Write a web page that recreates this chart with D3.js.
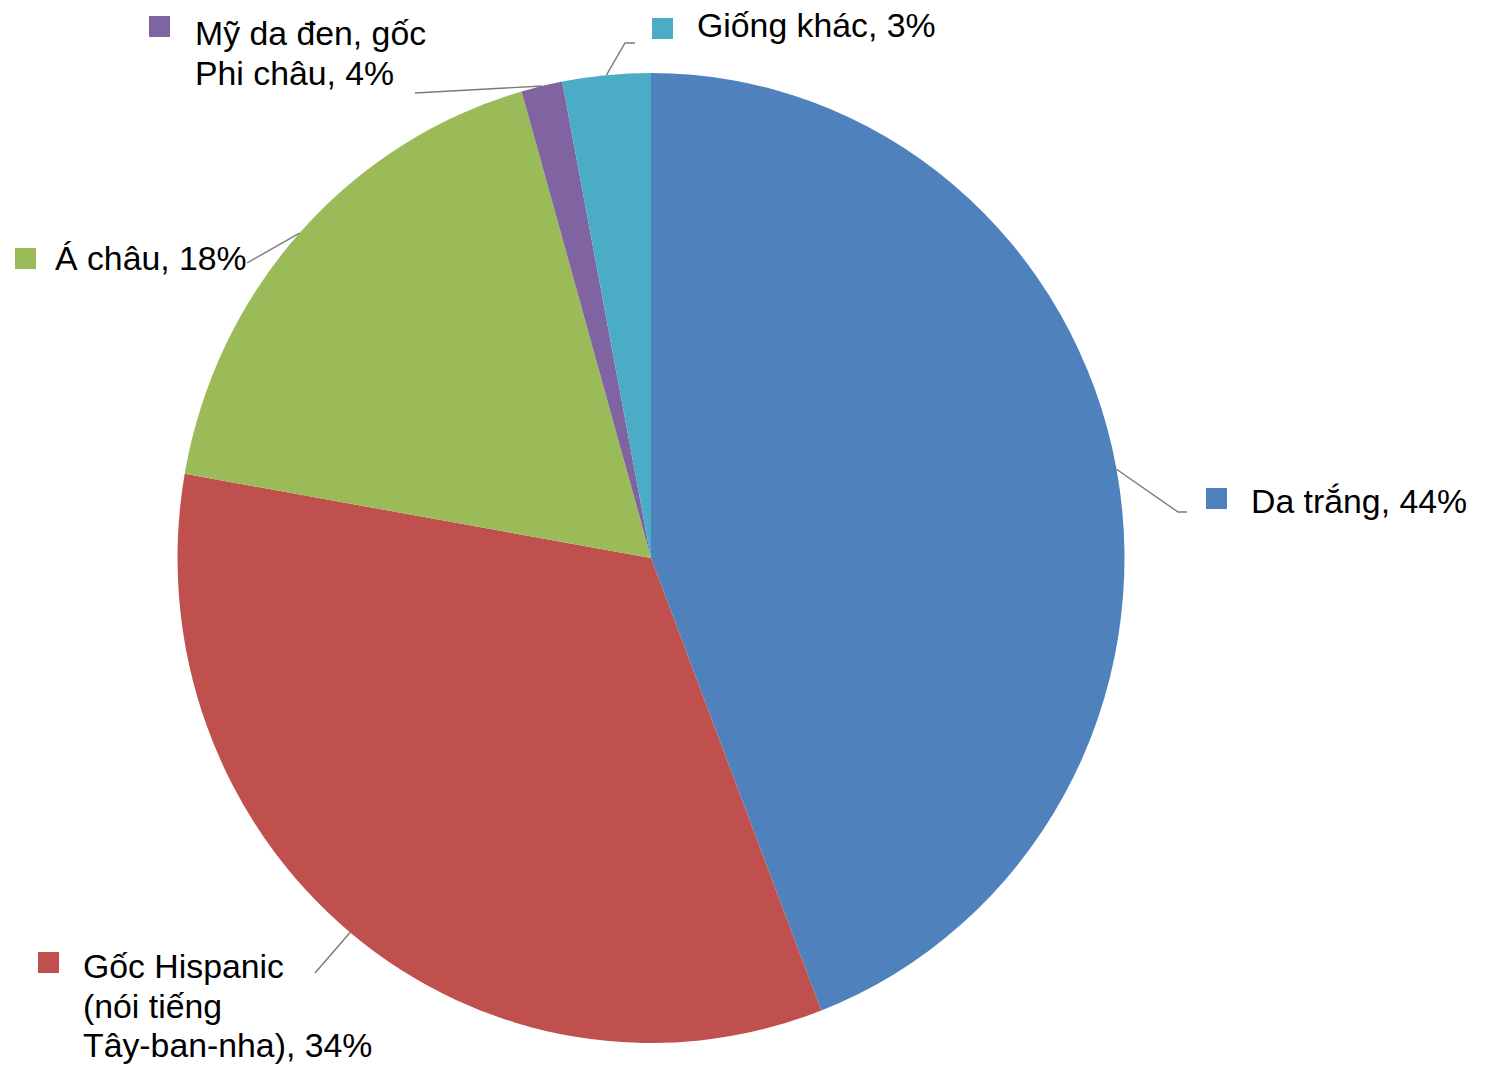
<!DOCTYPE html>
<html>
<head>
<meta charset="utf-8">
<script src="https://cdn.jsdelivr.net/npm/d3@7"></script>
<style>
  body { margin: 0; background: #fff; }
  svg { display: block; }
  .lbl { font-family: "Liberation Sans", Arial, sans-serif; font-size: 33.8px; fill: #000; }
  .leader { fill: none; stroke: #7a7a7a; stroke-width: 1.4; }
</style>
</head>
<body>
<svg id="svg1" width="1487" height="1069"></svg>
<script>
// data (slice sizes as drawn, labels as printed)
var categories = ["Da trắng", "Gốc Hispanic", "Á châu", "Mỹ da đen", "Giống khác"];
var values = [44.1, 33.6, 17.8, 1.4, 3.0];
var labelLines = [
  ["Da trắng, 44%"],
  ["Gốc Hispanic", "(nói tiếng", "Tây-ban-nha), 34%"],
  ["Á châu, 18%"],
  ["Mỹ da đen, gốc", "Phi châu, 4%"],
  ["Giống khác, 3%"]
];
var palette = ["#4F81BD", "#C0504D", "#9BBB59", "#8064A2", "#4BACC6"];

var width = 1487, height = 1069;
var cx = 651, cy = 558;
var rx = 473.5, ry = 485;

// where each label sits (leader elbow/end, marker, first baseline)
var layout = {
  "Da trắng":     { elbow: [1178, 512], end: [1187, 512], marker: [1206, 488], tx: 1251, ty: 513 },
  "Gốc Hispanic": { elbow: [315, 973],  end: [315, 973],  marker: [38, 952],   tx: 83,   ty: 978 },
  "Á châu":       { elbow: [247, 263],  end: [247, 263],  marker: [15, 248],   tx: 55,   ty: 270 },
  "Mỹ da đen":    { elbow: [415, 93],   end: [415, 93],   marker: [149, 16],   tx: 195,  ty: 45 },
  "Giống khác":   { elbow: [625, 43],   end: [635, 43],   marker: [652, 18],   tx: 697,  ty: 37 }
};
var lineStep = 39.5;

var color = d3.scaleOrdinal().domain(categories).range(palette);

var data = categories.map(function(c, i) {
  return { name: c, value: values[i], lines: labelLines[i] };
});

var pie = d3.pie().sort(null).value(function(d) { return d.value; });
var arc = d3.arc().innerRadius(0).outerRadius(rx);

var svg = d3.select("#svg1");

var slices = pie(data);

svg.append("g")
    .attr("transform", "translate(" + cx + "," + cy + ") scale(1," + (ry / rx) + ")")
  .selectAll("path")
  .data(slices)
  .enter()
  .append("path")
    .attr("d", arc)
    .attr("fill", function(d) { return color(d.data.name); });

// leader lines from the middle of each slice's rim
svg.append("g")
  .selectAll(".leader")
  .data(slices)
  .enter()
  .append("polyline")
    .attr("class", "leader")
    .attr("points", function(d) {
      var a = (d.startAngle + d.endAngle) / 2;
      var p0 = [cx + rx * Math.sin(a), cy - ry * Math.cos(a)];
      var L = layout[d.data.name];
      return [p0, L.elbow, L.end].map(function(p) { return p.join(","); }).join(" ");
    });

var labels = svg.append("g")
  .selectAll(".label")
  .data(data)
  .enter()
  .append("g")
    .attr("class", "label");

labels.append("rect")
    .attr("x", function(d) { return layout[d.name].marker[0]; })
    .attr("y", function(d) { return layout[d.name].marker[1]; })
    .attr("width", 21)
    .attr("height", 21)
    .attr("fill", function(d) { return color(d.name); });

labels.append("text")
    .attr("class", "lbl")
  .selectAll("tspan")
  .data(function(d) {
    return d.lines.map(function(t, i) { return { t: t, i: i, L: layout[d.name] }; });
  })
  .enter()
  .append("tspan")
    .attr("x", function(d) { return d.L.tx; })
    .attr("y", function(d) { return d.L.ty + d.i * lineStep; })
    .text(function(d) { return d.t; });
</script>
</body>
</html>
